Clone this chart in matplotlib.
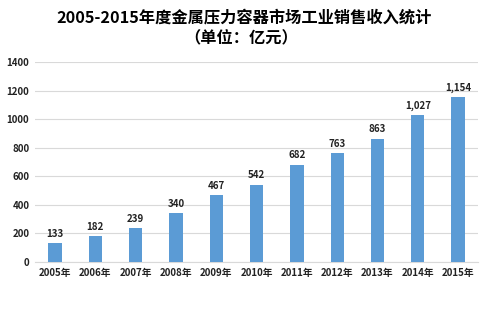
import matplotlib
matplotlib.use("Agg")
import matplotlib.pyplot as plt

plt.rcParams['font.family'] = ['Noto Sans CJK SC', 'DejaVu Sans']

# Annual industrial sales revenue, 100 million yuan
years = ["2005年", "2006年", "2007年", "2008年", "2009年", "2010年",
         "2011年", "2012年", "2013年", "2014年", "2015年"]
revenue = [133, 182, 239, 340, 467, 542, 682, 763, 863, 1027, 1154]
yticks = [0, 200, 400, 600, 800, 1000, 1200, 1400]

fig = plt.figure(figsize=(4.85, 3.3), dpi=100)
ax = fig.add_axes([0.072, 0.206, 0.914, 0.606])

x = range(len(years))
bars = ax.bar(x, revenue, width=0.33, color="#5B9BD5", zorder=3)

for xi, v in zip(x, revenue):
    ax.text(xi, v + 30, f"{v:,}", ha="center", va="bottom",
            fontsize=7, fontweight="bold", color="#222222")

ax.set_xlim(-0.5, len(years) - 0.5)
ax.set_ylim(0, 1400)
ax.set_yticks(yticks)
ax.set_yticklabels([str(t) for t in yticks], fontsize=7, fontweight="bold")
ax.set_xticks(list(x))
ax.set_xticklabels(years, fontsize=7, fontweight="bold")

ax.grid(axis="y", color="#D9D9D9", linewidth=0.8, zorder=0)
for s in ["top", "right", "left"]:
    ax.spines[s].set_visible(False)
ax.spines["bottom"].set_color("#D9D9D9")
ax.tick_params(length=0, pad=4, colors="#222222")

fig.text(0.503, 0.947, "2005-2015年度金属压力容器市场工业销售收入统计",
         ha="center", va="center", fontsize=11.7, fontweight="bold")
fig.text(0.498, 0.885, "（单位：亿元）", ha="center", va="center",
         fontsize=11.7, fontweight="bold")

fig.savefig("out.png", dpi=100)
